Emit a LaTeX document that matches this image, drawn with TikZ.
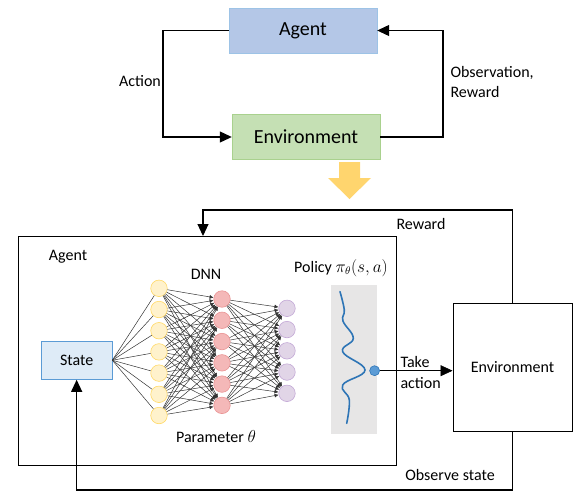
\documentclass[tikz,border=0pt]{standalone}
\usepackage{fontspec}
\setmainfont{Carlito}
\usetikzlibrary{arrows.meta}

\definecolor{agentfill}{HTML}{B4C7E7}
\definecolor{agentedge}{HTML}{9DC3E6}
\definecolor{envfill}{HTML}{C5E0B4}
\definecolor{envedge}{HTML}{A9D18E}
\definecolor{statefill}{HTML}{DEEBF7}
\definecolor{stateedge}{HTML}{5B9BD5}
\definecolor{yelfill}{HTML}{FFF2CC}
\definecolor{yeledge}{HTML}{FFD966}
\definecolor{redfill}{HTML}{F4B8B8}
\definecolor{rededge}{HTML}{EA9494}
\definecolor{purfill}{HTML}{E1D5E7}
\definecolor{puredge}{HTML}{C3A8D6}
\definecolor{policygray}{HTML}{E7E6E6}
\definecolor{curveblue}{HTML}{2E75B6}
\definecolor{arrowyellow}{HTML}{FFD56E}

\tikzset{
  topbox/.style={minimum width=148pt, minimum height=45pt, inner sep=0pt, font=\fontsize{20}{22}\selectfont},
  link/.style={line width=1.1pt, -{Triangle[length=12pt,width=11pt]}},
  neuron/.style={circle, minimum size=16.5pt, inner sep=0pt, line width=0.6pt},
  nnline/.style={black!80, line width=0.5pt},
  nnarrow/.style={nnline, -{Latex[length=4pt,width=4pt]}}
}

\begin{document}
\begin{tikzpicture}[x=1pt, y=-1pt, every node/.style={font=\fontsize{16}{20}\selectfont}]
    \useasboundingbox (0,0) rectangle (573,493);

    % upper loop
    \node[topbox, fill=agentfill, draw=agentedge] (agent) at (303,30.5) {Agent};
    \node[topbox, fill=envfill, draw=envedge] (envtop) at (306,137) {Environment};
    \draw[link] (agent.west) -- (163,30.5) |- (envtop.west);
    \draw[link] (envtop.east) -- (443,137) |- (agent.east);
    \node (action) at (140,81) {Action};
    \node[anchor=west, align=left] (obs) at (447,82) {Observation,\\Reward};

    % big yellow arrow
    \fill[arrowyellow] (339,162) -- (360,162) -- (360,178) -- (371,178) -- (349.5,199)
        -- (328,178) -- (339,178) -- cycle;

    % lower loop
    \node[draw, line width=1.1pt, anchor=north west, minimum width=378.5pt, minimum height=229pt, inner sep=0pt] (agentbox) at (17.5,236) {};
    \node[draw, line width=1.1pt, anchor=north west, minimum width=119pt, minimum height=128.3pt, inner sep=0pt] (envbox) at (452.5,302.7) {Environment};
    \node[draw=stateedge, fill=statefill, line width=0.8pt, anchor=north west, minimum width=70.5pt, minimum height=38.3pt, inner sep=0pt] (state) at (41,340.7) {State};

    \coordinate (rwd) at (203,210);
    \draw[link] (envbox.north) |- (rwd) -- (rwd |- agentbox.north);
    \draw[link] (envbox.south) |- (state.south |- 0,490) -- (state.south);

    \node (reward) at (421,224) {Reward};
    \node (observe) at (450,475) {Observe state};
    \node (agentlbl) at (68,257) {Agent};
    \node (dnn) at (206,274) {DNN};
    \node (param) at (216,437) {Parameter $\theta$};

    % DNN layers
    \foreach \i in {1,...,7}
        \node[neuron, fill=yelfill, draw=yeledge] (y\i) at (159,{288.3+21.2*(\i-1)}) {};
    \foreach \i in {1,...,6}
        \node[neuron, fill=redfill, draw=rededge] (r\i) at (222,{299+21.27*(\i-1)}) {};
    \foreach \i in {1,...,5}
        \node[neuron, fill=purfill, draw=puredge] (p\i) at (287,{308.3+21.25*(\i-1)}) {};

    \foreach \i in {1,...,7}
        \draw[nnline] (state.east) -- (y\i);
    \foreach \i in {1,...,7}
        \foreach \j in {1,...,6}
            \draw[nnarrow] (y\i) -- (r\j);
    \foreach \i in {1,...,6}
        \foreach \j in {1,...,5}
            \draw[nnarrow] (r\i) -- (p\j);

    % policy
    \node[fill=policygray, anchor=north west, minimum width=45.5pt, minimum height=148.3pt, inner sep=0pt] (policy) at (331,285) {};
    \node (policylbl) at (341,268) {Policy $\pi_\theta(s,a)$};
    \draw[curveblue, line width=1.6pt, line cap=round] plot[smooth, tension=0.7] coordinates {
        (340,291.7) (344.3,310) (343,321) (353.3,338.3) (342.7,351.7)
        (365,370) (342.7,385) (349.3,400) (346.7,423.3)};
    \node[circle, fill=stateedge, draw=curveblue, line width=0.6pt, minimum size=10pt, inner sep=0pt] (dot) at (374.6,370.7) {};
    \draw[link, line width=0.6pt] (dot) -- (dot -| envbox.west);
    \node[anchor=west] (take) at (397,362) {Take};
    \node[anchor=west] (tact) at (397,383) {action};
\end{tikzpicture}
\end{document}
